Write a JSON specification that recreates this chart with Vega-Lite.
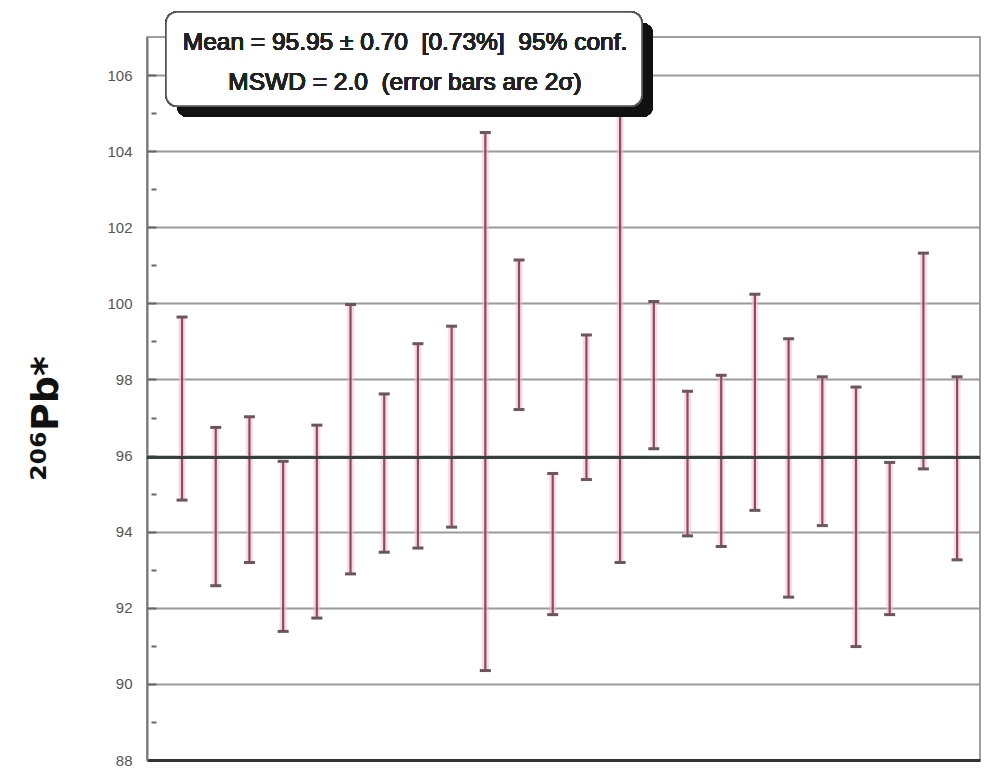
{
  "$schema": "https://vega.github.io/schema/vega-lite/v6.json",
  "width": 833,
  "height": 723,
  "autosize": {"type": "none"},
  "padding": {"left": 147, "top": 37, "right": 7, "bottom": 13},
  "background": "white",
  "config": {"view": {"stroke": "#808080", "strokeWidth": 1.5}, "font": "Liberation Sans"},
  "data": {"values": [
    {"i": 1, "lo": 94.83, "hi": 99.64},
    {"i": 2, "lo": 92.58, "hi": 96.74},
    {"i": 3, "lo": 93.19, "hi": 97.02},
    {"i": 4, "lo": 91.38, "hi": 95.85},
    {"i": 5, "lo": 91.73, "hi": 96.80},
    {"i": 6, "lo": 92.89, "hi": 99.97},
    {"i": 7, "lo": 93.46, "hi": 97.62},
    {"i": 8, "lo": 93.57, "hi": 98.94},
    {"i": 9, "lo": 94.12, "hi": 99.40},
    {"i": 10, "lo": 90.35, "hi": 104.49},
    {"i": 11, "lo": 97.21, "hi": 101.14},
    {"i": 12, "lo": 91.82, "hi": 95.53},
    {"i": 13, "lo": 95.37, "hi": 99.17},
    {"i": 14, "lo": 93.19, "hi": 106.3},
    {"i": 15, "lo": 96.18, "hi": 100.05},
    {"i": 16, "lo": 93.89, "hi": 97.69},
    {"i": 17, "lo": 93.61, "hi": 98.11},
    {"i": 18, "lo": 94.56, "hi": 100.24},
    {"i": 19, "lo": 92.28, "hi": 99.07},
    {"i": 20, "lo": 94.16, "hi": 98.07},
    {"i": 21, "lo": 90.98, "hi": 97.80},
    {"i": 22, "lo": 91.82, "hi": 95.82},
    {"i": 23, "lo": 95.65, "hi": 101.32},
    {"i": 24, "lo": 93.26, "hi": 98.07}
  ]},
  "resolve": {"axis": {"y": "independent"}},
  "layer": [
    {
      "mark": {"type": "rule", "color": "#f2bccb", "strokeWidth": 7, "opacity": 0.55},
      "encoding": {
        "x": {"field": "i", "type": "quantitative", "scale": {"domain": [-0.04, 24.68], "nice": false, "zero": false},
              "axis": {"title": null, "labels": false, "ticks": false, "grid": false, "domainColor": "#333333", "domainWidth": 3}},
        "y": {"field": "lo", "type": "quantitative", "scale": {"domain": [88, 107], "nice": false, "zero": false},
              "axis": {
                "orient": "left",
                "values": [88, 90, 92, 94, 96, 98, 100, 102, 104, 106],
                "grid": true, "gridColor": "#9a9a9a", "gridWidth": 2,
                "ticks": false,
                "labelPadding": 15, "labelFontSize": 15, "labelColor": "#555555",
                "domainColor": "#777777", "domainWidth": 2,
                "title": "²⁰⁶Pb*", "titleFont": "DejaVu Sans", "titleFontSize": 38, "titleFontWeight": "bold", "titleColor": "#111111",
                "titleX": -90, "titleY": 381, "titleAngle": 270, "titleAlign": "center", "titleBaseline": "alphabetic"
              }},
        "y2": {"field": "hi"}
      }
    },
    {
      "mark": {"type": "rule", "color": "#8e4b5b", "strokeWidth": 2.2},
      "encoding": {
        "x": {"field": "i", "type": "quantitative"},
        "y": {"field": "lo", "type": "quantitative",
              "axis": {
                "orient": "left", "offset": -9,
                "values": [89, 90, 91, 92, 93, 94, 95, 96, 97, 98, 99, 100, 101, 102, 103, 104, 105, 106],
                "labels": false, "grid": false, "domain": false, "title": null,
                "ticks": true, "tickColor": "#666666", "tickWidth": 2,
                "tickSize": {"condition": {"test": "datum.value % 2 === 0", "value": 9}, "value": 5}
              }},
        "y2": {"field": "hi"}
      }
    },
    {
      "mark": {"type": "tick", "orient": "horizontal", "color": "#6b5560", "size": 11, "thickness": 3, "opacity": 1},
      "encoding": {
        "x": {"field": "i", "type": "quantitative"},
        "y": {"field": "lo", "type": "quantitative", "axis": null}
      }
    },
    {
      "mark": {"type": "tick", "orient": "horizontal", "color": "#6b5560", "size": 11, "thickness": 3, "opacity": 1},
      "encoding": {
        "x": {"field": "i", "type": "quantitative"},
        "y": {"field": "hi", "type": "quantitative", "axis": null}
      }
    },
    {
      "mark": {"type": "rule", "color": "#34403a", "strokeWidth": 3},
      "encoding": {"y": {"datum": 95.95, "axis": null}}
    },
    {
      "mark": {"type": "rect", "color": "#111111", "cornerRadius": 11},
      "encoding": {
        "x": {"datum": 0.85}, "x2": {"datum": 14.975},
        "y": {"datum": 107.368, "axis": null}, "y2": {"datum": 104.895}
      }
    },
    {
      "mark": {"type": "rect", "fill": "white", "stroke": "#555555", "strokeWidth": 1.5, "cornerRadius": 11},
      "encoding": {
        "x": {"datum": 0.524}, "x2": {"datum": 14.648},
        "y": {"datum": 107.658, "axis": null}, "y2": {"datum": 105.184}
      }
    },
    {
      "mark": {"type": "text", "text": "Mean = 95.95 ± 0.70\u00a0 [0.73%]\u00a0 95% conf.", "fontSize": 24.5, "color": "#222222", "align": "center", "baseline": "middle"},
      "encoding": {"x": {"datum": 7.616}, "y": {"datum": 106.85, "axis": null}}
    },
    {
      "mark": {"type": "text", "text": "MSWD = 2.0\u00a0 (error bars are 2σ)", "fontSize": 24.5, "color": "#222222", "align": "center", "baseline": "middle"},
      "encoding": {"x": {"datum": 7.616}, "y": {"datum": 105.78, "axis": null}}
    }
  ]
}
